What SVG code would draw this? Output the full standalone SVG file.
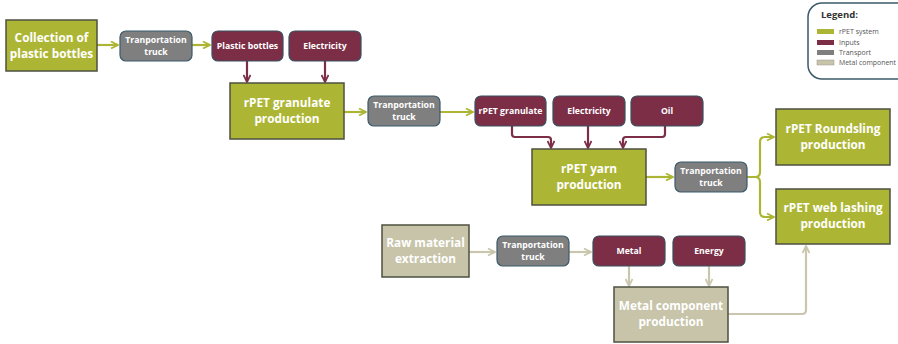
<svg xmlns="http://www.w3.org/2000/svg" width="898" height="344" viewBox="0 0 898 344">
<defs>
<style>
.g{fill:#adb634;stroke:#4d5040;stroke-width:1.5}
.m{fill:#7b2e46;stroke:#3b4f5e;stroke-width:1.2}
.t{fill:#7f7f7f;stroke:#3b5a6b;stroke-width:1.2}
.b{fill:#c7c4a9;stroke:#4d5040;stroke-width:1.5}
text{font-family:"Open Sans","Liberation Sans",sans-serif;font-weight:bold;fill:#fff;text-anchor:middle}
.L{font-size:11.8px}
.S{font-size:8.7px}
.cg{fill:none;stroke:#adb634;stroke-width:2.2}
.cm{fill:none;stroke:#7b2e46;stroke-width:2.2}
.cb{fill:none;stroke:#c9c6ad;stroke-width:2.2}
.lt{font-size:7px;font-weight:normal;fill:#555;text-anchor:start}
</style>
<marker id="ag" viewBox="0 0 10 10" refX="9" refY="5" markerWidth="4" markerHeight="4" orient="auto" markerUnits="strokeWidth"><path d="M1,1 L9,5 L1,9" fill="none" stroke="#adb634" stroke-width="2"/></marker>
<marker id="am" viewBox="0 0 10 10" refX="9" refY="5" markerWidth="4" markerHeight="4" orient="auto" markerUnits="strokeWidth"><path d="M1,1 L9,5 L1,9" fill="none" stroke="#7b2e46" stroke-width="2"/></marker>
<marker id="ab" viewBox="0 0 10 10" refX="9" refY="5" markerWidth="4" markerHeight="4" orient="auto" markerUnits="strokeWidth"><path d="M1,1 L9,5 L1,9" fill="none" stroke="#c9c6ad" stroke-width="2"/></marker>
</defs>
<rect width="898" height="344" fill="#fff"/>
<g id="connectors">
<path class="cg" marker-end="url(#ag)" d="M97,45 H118"/>
<path class="cg" marker-end="url(#ag)" d="M192,45 H210"/>
<path class="cm" marker-end="url(#am)" d="M247,61 V82"/>
<path class="cm" marker-end="url(#am)" d="M325,61 V82"/>
<path class="cg" marker-end="url(#ag)" d="M344,112 H366"/>
<path class="cg" marker-end="url(#ag)" d="M440,112 H473"/>
<path class="cm" marker-end="url(#am)" d="M512,126 V134 Q512,137 515,137 H548 Q551,137 551,140 V148"/>
<path class="cm" marker-end="url(#am)" d="M588,126 V148"/>
<path class="cm" marker-end="url(#am)" d="M665,126 V134 Q665,137 662,137 H626 Q623,137 623,140 V148"/>
<path class="cg" marker-end="url(#ag)" d="M646,177 H673"/>
<path class="cg" marker-end="url(#ag)" d="M747,177 H755 Q760,177 760,172 V142 Q760,137 765,137 H774"/>
<path class="cg" marker-end="url(#ag)" d="M755,177 Q760,177 760,182 V212 Q760,217 765,217 H774"/>
<path class="cb" marker-end="url(#ab)" d="M469,252 H495"/>
<path class="cb" marker-end="url(#ab)" d="M569,252 H591"/>
<path class="cb" marker-end="url(#ab)" d="M629,266 V286"/>
<path class="cb" marker-end="url(#ab)" d="M709,266 V286"/>
<path class="cb" marker-end="url(#ab)" d="M728,314 H802 Q806,314 806,310 V246"/>
</g>
<g id="collection"><rect class="g" x="6" y="20" width="91" height="51"/><text class="L" x="51.5" y="42">Collection of</text><text class="L" x="51.5" y="58">plastic bottles</text></g>
<g id="truck1"><rect class="t" x="120" y="31" width="72" height="30" rx="6"/><text class="S" x="156" y="43">Tranportation</text><text class="S" x="156" y="55">truck</text></g>
<g id="plastic-bottles"><rect class="m" x="212" y="31" width="71" height="30" rx="6"/><text class="S" x="247.5" y="49">Plastic bottles</text></g>
<g id="electricity1"><rect class="m" x="289" y="31" width="72" height="30" rx="6"/><text class="S" x="325" y="49">Electricity</text></g>
<g id="granulate-production"><rect class="g" x="230" y="83" width="114" height="56"/><text class="L" x="287" y="107">rPET granulate</text><text class="L" x="287" y="123">production</text></g>
<g id="truck2"><rect class="t" x="368" y="96" width="72" height="30" rx="6"/><text class="S" x="404" y="108">Tranportation</text><text class="S" x="404" y="120">truck</text></g>
<g id="rpet-granulate"><rect class="m" x="475" y="96" width="71" height="30" rx="6"/><text class="S" x="510.5" y="114">rPET granulate</text></g>
<g id="electricity2"><rect class="m" x="553" y="96" width="72" height="30" rx="6"/><text class="S" x="589" y="114">Electricity</text></g>
<g id="oil"><rect class="m" x="631" y="96" width="72" height="30" rx="6"/><text class="S" x="667" y="114">Oil</text></g>
<g id="yarn-production"><rect class="g" x="532" y="149" width="114" height="56"/><text class="L" x="589" y="173">rPET yarn</text><text class="L" x="589" y="189">production</text></g>
<g id="truck3"><rect class="t" x="675" y="162" width="72" height="30" rx="6"/><text class="S" x="711" y="174">Tranportation</text><text class="S" x="711" y="186">truck</text></g>
<g id="roundsling"><rect class="g" x="776" y="109" width="114" height="56"/><text class="L" x="833" y="133">rPET Roundsling</text><text class="L" x="833" y="149">production</text></g>
<g id="web-lashing"><rect class="g" x="776" y="189" width="114" height="55"/><text class="L" x="833" y="212">rPET web lashing</text><text class="L" x="833" y="228">production</text></g>
<g id="raw-material"><rect class="b" x="382" y="225" width="87" height="52"/><text class="L" x="425.5" y="247">Raw material</text><text class="L" x="425.5" y="263">extraction</text></g>
<g id="truck4"><rect class="t" x="497" y="236" width="72" height="30" rx="6"/><text class="S" x="533" y="248">Tranportation</text><text class="S" x="533" y="260">truck</text></g>
<g id="metal"><rect class="m" x="593" y="236" width="72" height="30" rx="6"/><text class="S" x="629" y="254">Metal</text></g>
<g id="energy"><rect class="m" x="673" y="236" width="72" height="30" rx="6"/><text class="S" x="709" y="254">Energy</text></g>
<g id="metal-component"><rect class="b" x="614" y="287" width="114" height="55"/><text class="L" x="671" y="310">Metal component</text><text class="L" x="671" y="326">production</text></g>
<g id="legend">
<rect x="808" y="3" width="110" height="76" rx="14" fill="#fff" stroke="#3b5a6b" stroke-width="1.5"/>
<text x="821" y="18" style="font-size:9.5px;fill:#333;text-anchor:start">Legend:</text>
<rect x="817" y="29" width="17" height="5" fill="#adb634"/>
<rect x="817" y="40" width="17" height="5" fill="#7b2e46"/>
<rect x="817" y="50" width="17" height="5" fill="#7f7f7f"/>
<rect x="817" y="60" width="17" height="5" fill="#c7c4a9" stroke="#999" stroke-width="0.5"/>
<text class="lt" x="839" y="34">rPET system</text>
<text class="lt" x="839" y="45">Inputs</text>
<text class="lt" x="839" y="55">Transport</text>
<text class="lt" x="839" y="65" textLength="57" lengthAdjust="spacingAndGlyphs">Metal component</text>
</g>
</svg>
